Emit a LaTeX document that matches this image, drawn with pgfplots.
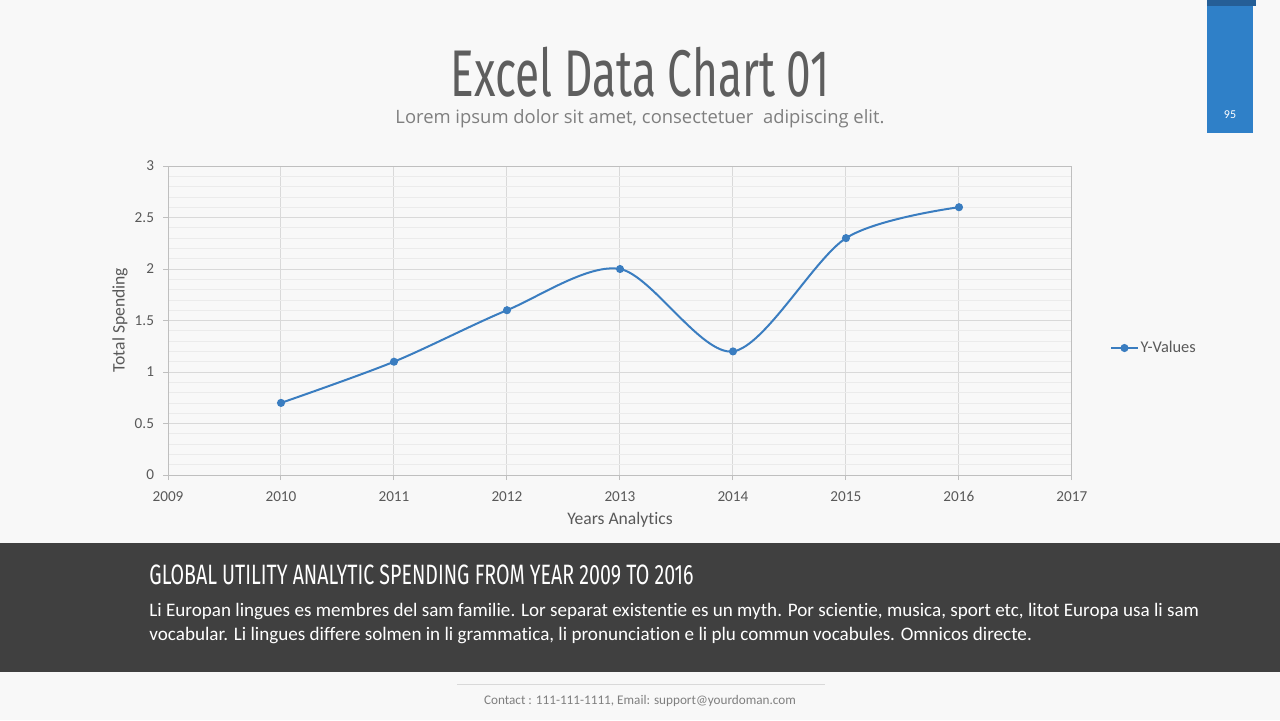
\documentclass[border=0pt]{standalone}
\usepackage{fontspec}
\setmainfont[Ligatures=NoCommon]{Carlito}
\newfontfamily\titlefont[FakeStretch=0.67]{Fira Sans}
\newfontfamily\headfont[FakeStretch=0.70]{Fira Sans}
\newfontfamily\subfont{Open Sans}
\usepackage{pgfplots}
\pgfplotsset{compat=1.18}
\definecolor{bg}{HTML}{F8F8F8}
\definecolor{band}{HTML}{404040}
\definecolor{slideblue}{HTML}{2F80C8}
\definecolor{darkblue}{HTML}{255E96}
\definecolor{titlegray}{HTML}{5E5E5E}
\definecolor{subgray}{HTML}{7F7F7F}
\definecolor{linecol}{HTML}{3A7DC0}
\definecolor{majgrid}{HTML}{D9D9D9}
\definecolor{mingrid}{HTML}{EBEBEB}
\definecolor{axcol}{HTML}{BFBFBF}
\definecolor{txt}{HTML}{595959}
\begin{document}
\begin{tikzpicture}
\fill[bg] (0,0) rectangle (640pt,-360pt);
\useasboundingbox (0,0) rectangle (640pt,-360pt);
\begin{scope}[x=0.5pt,y=-0.5pt]
\fill[band] (0,543) rectangle (1280,672);
\fill[slideblue] (1207,0) rectangle (1253,133);
\fill[darkblue] (1207,0) rectangle (1256,6);
\node[white,font=\fontsize{6}{7}\selectfont] at (1230,115) {95};
\node[titlegray,inner sep=0pt,text depth=0pt,anchor=base,font=\titlefont\fontsize{33}{36}\selectfont] at (640,96) {Excel Data Chart 01};
\node[subgray,inner sep=0pt,font=\subfont\fontsize{9.2}{11}\selectfont] at (640,119) {Lorem ipsum dolor sit amet, consectetuer\ \ adipiscing elit.};
\node[white,anchor=west,inner sep=0pt,font=\headfont\fontsize{14}{16}\selectfont] at (149,575) {GLOBAL UTILITY ANALYTIC SPENDING FROM YEAR 2009 TO 2016};
\node[white,anchor=base west,font=\fontsize{9.55}{11}\selectfont,inner sep=0pt] at (149,616) {Li Europan lingues es membres del sam familie. Lor separat existentie es un myth. Por scientie, musica, sport etc, litot Europa usa li sam};
\node[white,anchor=base west,font=\fontsize{9.55}{11}\selectfont,inner sep=0pt] at (149,640) {vocabular. Li lingues differe solmen in li grammatica, li pronunciation e li plu commun vocabules. Omnicos directe.};
\draw[majgrid,line width=0.5pt] (457,684) -- (825,684);
\node[subgray,font=\fontsize{6.6}{8}\selectfont] at (640,701) {Contact : 111-111-1111, Email: support@yourdoman.com};
\node[txt,rotate=90,font=\fontsize{8.8}{10}\selectfont] at (120,320) {Total Spending};
\node[txt,font=\fontsize{8.8}{10}\selectfont] at (620,520) {Years Analytics};
\end{scope}
\begin{axis}[
  at={(84pt,-237.5pt)}, anchor=south west,
  width=452pt, height=154.5pt, scale only axis,
  xmin=2009, xmax=2017, ymin=0, ymax=3,
  xtick={2009,...,2017}, ytick={0,0.5,...,3},
  minor x tick num=4, minor y tick num=4,
  grid=both,
  major grid style={majgrid,line width=0.5pt},
  minor grid style={mingrid,line width=0.4pt},
  axis line style={axcol,line width=0.5pt},
  tick style={axcol,line width=0.5pt},
  tick align=outside, major tick length=2.5pt, minor tick length=0pt,
  xtick pos=bottom, ytick pos=left,
  /pgf/number format/assume math mode=true,
  x tick label style={/pgf/number format/1000 sep={}, font=\fontsize{7.6}{8}\selectfont, text=txt, yshift=-2pt, text height=5pt, text depth=0pt},
  y tick label style={font=\fontsize{7.6}{8}\selectfont, text=txt, xshift=-1pt},
  legend style={at={(1.042,0.411)}, anchor=west, draw=none, fill=none, font=\fontsize{8.2}{9}\selectfont, text=txt, inner sep=0pt, /tikz/every even column/.append style={column sep=0pt}},
  legend cell align=left,
  legend image code/.code={\draw[mark repeat=2,mark phase=2] plot coordinates {(0cm,0cm)(0.23cm,0cm)(0.46cm,0cm)};},
  legend style={nodes={inner xsep=1pt}},
]
\addplot[linecol, line width=1pt, smooth, tension=0.5, mark=*, mark size=1.5pt, mark options={fill=linecol}]
coordinates {(2010,0.7)(2011,1.1)(2012,1.6)(2013,2.0)(2014,1.2)(2015,2.3)(2016,2.6)};
\addlegendentry{Y-Values}
\end{axis}
\end{tikzpicture}
\end{document}
